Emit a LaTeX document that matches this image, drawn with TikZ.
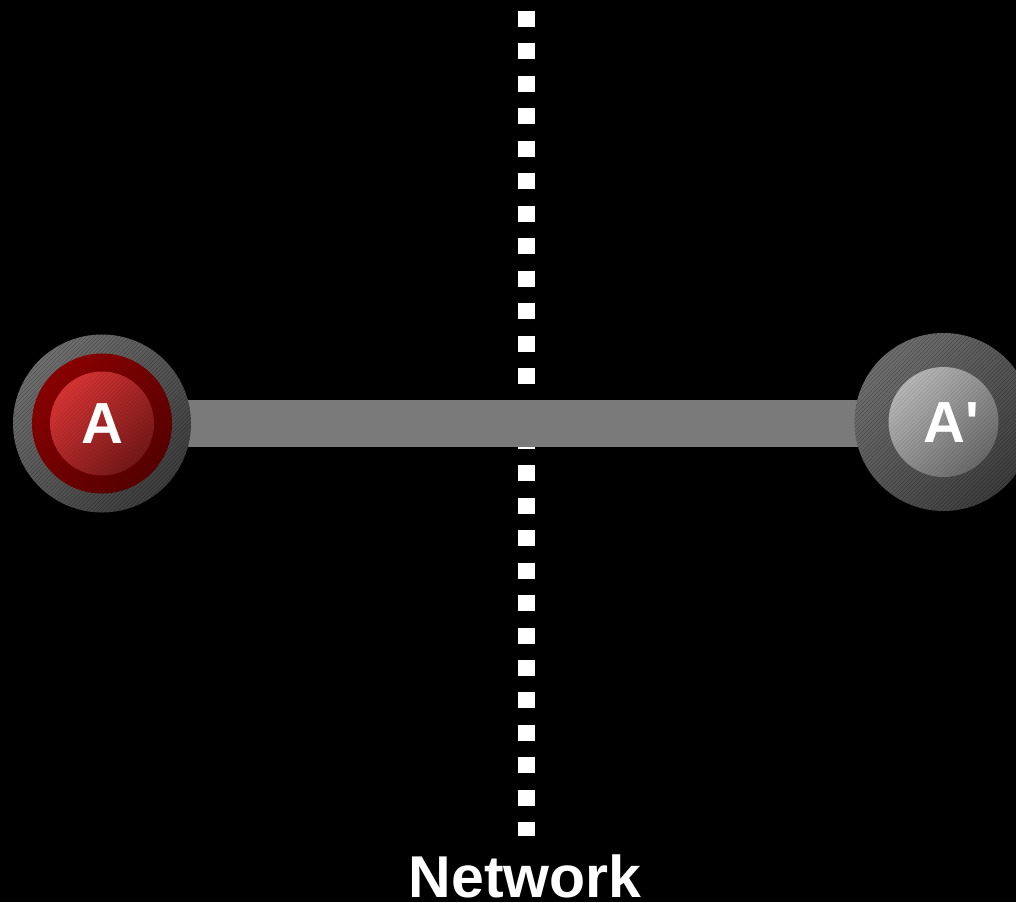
\documentclass[tikz,border=0pt]{standalone}
\usepackage{fontspec}
\setmainfont{Liberation Sans}
\usetikzlibrary{patterns.meta}
\definecolor{barg}{HTML}{7A7A7A}
\definecolor{ringtop}{HTML}{8E0000}
\definecolor{ringbot}{HTML}{5A0000}
\definecolor{redtop}{HTML}{D83434}
\definecolor{redbot}{HTML}{761818}
\definecolor{graytop}{HTML}{B8B8B8}
\definecolor{graybot}{HTML}{6A6A6A}
\definecolor{outtop}{HTML}{707070}
\definecolor{outbot}{HTML}{3E3E3E}
\tikzset{
  hatch/.style={pattern={Lines[angle=45,distance=2.8pt,line width=0.5pt]},pattern color=black,opacity=0.3},
  outerring/.style={circle,minimum size=178pt,inner sep=0pt,draw=none,shading=axis,top color=outtop,bottom color=outbot,shading angle=45},
  disc/.style 2 args={circle,inner sep=0pt,draw=none,shading=axis,top color=#1,bottom color=#2,shading angle=45},
  lbl/.style={text=white,font=\bfseries\fontsize{58}{58}\selectfont,inner sep=0pt},
  netline/.style={white,line width=17pt,dash pattern=on 16pt off 16.45pt},
  linkbar/.style={barg,line width=47pt}
}
\begin{document}
\begin{tikzpicture}[x=1pt,y=-1pt]
\fill[black] (0,0) rectangle (1016,902);
\useasboundingbox (0,0) rectangle (1016,902);
% network line
\coordinate (ntop) at (526.5,11);
\coordinate (nbot) at (526.5,836);
\draw[netline] (ntop) -- (nbot);
% node positions
\coordinate (A) at (102,423.5);
\coordinate (Ap) at (943.5,423.5);
% bar
\draw[linkbar] (A) -- (Ap);
% outer discs
\node[outerring] (Ao) at (A) {};
\node[outerring] (Apo) at (943.5,422) {};
\path[hatch] (Ao.center) circle[radius=89pt];
\path[hatch] (Apo.center) circle[radius=89pt];
% red ring and inner disc
\node[disc={ringtop}{ringbot},minimum size=140pt] (Ar) at (A) {};
\path[hatch,opacity=0.2] (Ar.center) circle[radius=70pt];
\node[disc={redtop}{redbot},minimum size=104pt] (Ai) at (A) {};
\node[disc={graytop}{graybot},minimum size=110pt] (Api) at (Apo.center) {};
\path[hatch,opacity=0.12] (Ai.center) circle[radius=52pt];
\path[hatch,opacity=0.12] (Api.center) circle[radius=55pt];
% labels
\node[lbl] (At) at (102,424) {A};
\node[lbl] (Apt) at (951,423) {A\textquotesingle};
\node[text=white,font=\bfseries\fontsize{59}{59}\selectfont,inner sep=0pt,anchor=base] (net) at (525,897) {Network};
\end{tikzpicture}
\end{document}
